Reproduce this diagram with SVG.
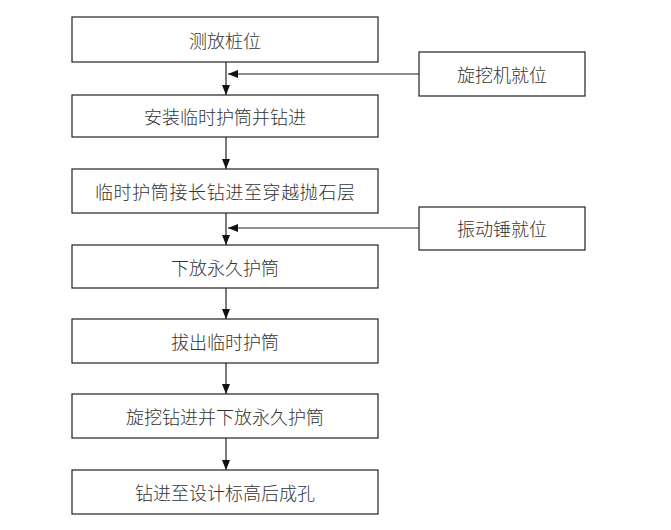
<svg xmlns="http://www.w3.org/2000/svg" width="671" height="530" viewBox="0 0 671 530">
<style>
.box{fill:#fff;stroke:#222;stroke-width:1.2}
.t{font-family:"Noto Sans CJK SC","Noto Sans CJK JP",sans-serif;font-size:18px;font-weight:300;fill:#333;text-anchor:middle;dominant-baseline:central}
.c{stroke:#222;stroke-width:1.2;fill:none}
</style>
<defs>
<marker id="ah" markerWidth="10" markerHeight="8" refX="10" refY="4" orient="auto" markerUnits="userSpaceOnUse">
<path d="M0,0 L10,4 L0,8 Z" fill="#111"/>
</marker>
</defs>
<rect width="671" height="530" fill="#fff"/>
<g id="n1"><rect class="box" x="72" y="17" width="306" height="45"/><text class="t" x="225" y="40">测放桩位</text></g>
<g id="n2"><rect class="box" x="72" y="95" width="306" height="42"/><text class="t" x="225" y="116">安装临时护筒并钻进</text></g>
<g id="n3"><rect class="box" x="72" y="169" width="306" height="44"/><text class="t" x="225" y="191" textLength="260" lengthAdjust="spacing">临时护筒接长钻进至穿越抛石层</text></g>
<g id="n4"><rect class="box" x="72" y="245" width="306" height="43"/><text class="t" x="225" y="267">下放永久护筒</text></g>
<g id="n5"><rect class="box" x="72" y="319" width="306" height="44"/><text class="t" x="225" y="341">拔出临时护筒</text></g>
<g id="n6"><rect class="box" x="72" y="394" width="306" height="44"/><text class="t" x="225" y="416">旋挖钻进并下放永久护筒</text></g>
<g id="n7"><rect class="box" x="72" y="470" width="306" height="44"/><text class="t" x="225" y="492">钻进至设计标高后成孔</text></g>
<g id="s1"><rect class="box" x="419" y="52" width="166" height="44"/><text class="t" x="502" y="74">旋挖机就位</text></g>
<g id="s2"><rect class="box" x="419" y="207" width="166" height="43"/><text class="t" x="502" y="228">振动锤就位</text></g>
<g id="connectors">
<line class="c" x1="226" y1="62" x2="226" y2="95" marker-end="url(#ah)"/>
<line class="c" x1="226" y1="137" x2="226" y2="169" marker-end="url(#ah)"/>
<line class="c" x1="226" y1="213" x2="226" y2="245" marker-end="url(#ah)"/>
<line class="c" x1="226" y1="288" x2="226" y2="319" marker-end="url(#ah)"/>
<line class="c" x1="226" y1="363" x2="226" y2="394" marker-end="url(#ah)"/>
<line class="c" x1="226" y1="438" x2="226" y2="470" marker-end="url(#ah)"/>
<line class="c" x1="419" y1="74" x2="228" y2="74" marker-end="url(#ah)"/>
<line class="c" x1="419" y1="228" x2="228" y2="228" marker-end="url(#ah)"/>
</g>
</svg>
